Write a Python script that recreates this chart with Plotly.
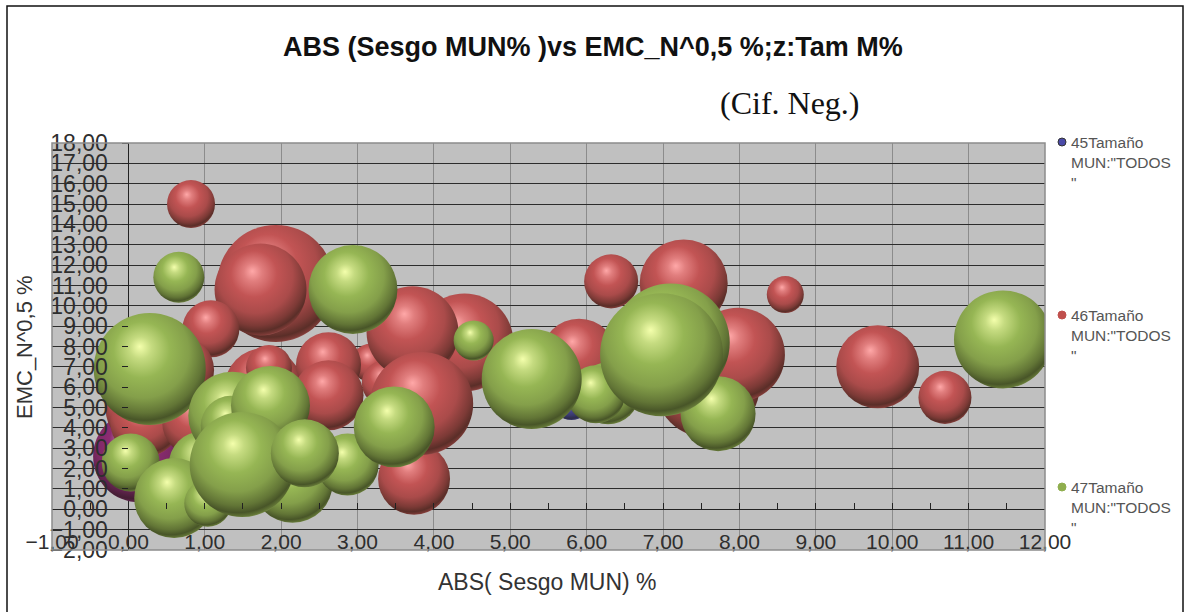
import plotly.graph_objects as go

# Series 45
x45 = [0.14, 5.80]
y45 = [2.60, 5.37]
z45 = [14.2, 2.7]
col45 = ["#8e2c74", "#5050a8"]
hi45 = ["#f0e6c8", "#b0b0f0"]

# Series 46
x46 = [0.82, 1.93, 1.73, 1.08, 0.69, 1.77, 1.84, 3.17, 3.35, 2.62, 2.62,
       0.16, 0.22, 0.90, 4.40, 3.72, 3.74, 3.84, 5.90, 7.58, 7.98, 7.27,
       6.32, 8.60, 9.81, 10.69]
y46 = [15.0, 11.1, 10.8, 8.87, 6.85, 6.0, 6.95, 7.2, 6.2, 7.1, 5.6,
       4.9, 4.3, 4.3, 8.2, 8.7, 1.5, 5.2, 7.5, 6.1, 7.6, 11.1,
       11.2, 10.55, 7.0, 5.5]
z46 = [3.87, 23.0, 14.2, 5.46, 7.32, 10.2, 3.55, 2.43, 3.4, 7.1, 8.23,
       8.23, 8.23, 8.23, 16.1, 14.2, 8.7, 17.8, 9.7, 18.5, 14.84, 13.0,
       4.9, 2.3, 11.57, 4.72]

# Series 47
x47 = [0.66, 2.94, 0.28, 0.03, 0.96, 0.60, 1.04, 1.36, 1.34, 2.15, 1.86,
       1.49, 2.87, 2.31, 3.48, 4.52, 6.28, 6.12, 5.28, 7.72, 7.10, 6.98,
       11.45]
y47 = [11.4, 10.8, 6.9, 2.3, 2.2, 0.55, 0.3, 4.6, 4.1, 1.3, 5.1,
       2.2, 2.2, 2.75, 4.05, 8.3, 5.7, 5.65, 6.4, 4.7, 8.2, 7.6,
       8.35]
z47 = [4.37, 13.3, 21.07, 5.65, 7.3, 10.75, 3.71, 13.0, 6.05, 10.75, 10.48,
       18.5, 6.46, 7.77, 11.0, 2.69, 6.46, 5.65, 16.8, 9.45, 23.4, 25.4,
       16.13]

legend_names = ['45Tamaño<br>MUN:"TODOS<br>"', '46Tamaño<br>MUN:"TODOS<br>"', '47Tamaño<br>MUN:"TODOS<br>"']
legend_colors = ["#4a4aa8", "#c0504d", "#8fae4e"]
legend_rows = [143, 316, 488]

RED, RED_HI = "#c25454", "#ffa8a8"
GREEN, GREEN_HI = "#96b654", "#f4ffac"
W, H = 1185, 612
L, R, T, B = 52, 1045, 143, 550
SIZEREF = 2 / 595.4


def px(v):
    return (v - L) / (R - L)


def py(v):
    return (B - v) / (B - T)


def bubbles(x, y, z, color, highlight, name):
    return go.Scatter(
        x=x, y=y, mode="markers", name=name, showlegend=False,
        marker=dict(size=z, sizemode="area", sizeref=SIZEREF, color=color, opacity=1,
                    line=dict(width=0),
                    gradient=dict(type="radial", color=highlight)),
    )


fig = go.Figure([
    bubbles(x45, y45, z45, col45, hi45, "45"),
    bubbles(x46, y46, z46, RED, RED_HI, "46"),
    bubbles(x47, y47, z47, GREEN, GREEN_HI, "47"),
])

axis_font = dict(family="Liberation Sans", size=21, color="#2e2e2e")
fig.update_layout(
    width=W, height=H,
    margin=dict(l=L, r=W - R, t=T, b=H - B, autoexpand=False),
    paper_bgcolor="white", plot_bgcolor="#c0c0c0",
    separators=",.",
    showlegend=False,
    xaxis=dict(
        range=[-1, 12], dtick=1, tick0=0, tickformat=".2f",
        anchor="free", position=(B - 509) / (B - T),
        showgrid=True, gridcolor="#8c8c8c", gridwidth=1.2,
        zeroline=True, zerolinecolor="#222222", zerolinewidth=1,
        showline=False, ticks="inside", ticklen=6, tickcolor="#222222",
        ticklabelstandoff=18, tickfont=axis_font,
        minor=dict(dtick=0.5, ticks="inside", ticklen=6, tickcolor="#222222", showgrid=False),
    ),
    yaxis=dict(
        range=[-2, 18], dtick=1, tick0=0, tickformat=".2f",
        anchor="free", position=(127.5 - L) / (R - L),
        showgrid=True, gridcolor="#2c2c2c", gridwidth=1.3,
        zeroline=True, zerolinecolor="#222222", zerolinewidth=1,
        showline=False, ticks="outside", ticklen=6, tickcolor="#222222",
        ticklabelstandoff=9, tickfont=dict(family="Liberation Sans", size=23, color="#2e2e2e"),
    ),
    shapes=[
        # plot border, then the outer frame, which stays open along the bottom
        dict(type="rect", xref="paper", yref="paper", x0=0, x1=1, y0=0, y1=1,
             line=dict(color="#8c8c8c", width=1.5)),
        dict(type="path", xref="paper", yref="paper",
             path=f"M {px(7)} {py(612)} L {px(7)} {py(6)} L {px(1183)} {py(6)} L {px(1183)} {py(612)}",
             line=dict(color="#111111", width=1.5)),
    ],
)


def label(text, x, y, size, color, family="Liberation Sans", **kw):
    fig.add_annotation(text=text, xref="paper", yref="paper", x=px(x), y=py(y),
                       xanchor="center", yanchor="middle", showarrow=False,
                       font=dict(family=family, size=size, color=color), **kw)


label("<b>ABS (Sesgo MUN% )vs EMC_N^0,5 %;z:Tam M%</b>", 593, 47, 27, "#111111")
label("(Cif. Neg.)", 790, 103, 32, "#111111", family="Liberation Serif")
label("ABS( Sesgo MUN) %", 547, 582, 23, "#333333")
label("EMC_N^0,5 %", 24, 347, 22, "#333333", textangle=-90)

for name, color, top in zip(legend_names, legend_colors, legend_rows):
    fig.add_annotation(text=name, xref="paper", yref="paper", x=px(1069), y=py(top - 11),
                       xanchor="left", yanchor="top", align="left", showarrow=False,
                       font=dict(family="Liberation Sans", size=15.5, color="#555555"))
    fig.add_shape(type="circle", xref="paper", yref="paper",
                  x0=px(1058), x1=px(1066), y0=py(top + 3), y1=py(top - 5),
                  fillcolor=color, line=dict(color="#333333" if top == legend_rows[0] else color, width=1))

# Turn the plain radial fills into lit spheres: off-centre highlight, dark
# lower right side and a faint reflected rim along the bottom edge.
SPHERE_JS = """
var gd = document.getElementById('{plot_id}');
function parse(c) {
  var m = String(c).match(/[0-9.]+/g).map(Number);
  return m.slice(0, 3);
}
function mix(a, b, t) {
  return 'rgb(' + a.map(function (v, i) { return Math.round(v + (b[i] - v) * t); }).join(',') + ')';
}
function shade() {
  gd.querySelectorAll('radialGradient').forEach(function (g) {
    if (g.getAttribute('data-lit')) return;
    var s = g.querySelectorAll('stop');
    var hi = parse(s[0].getAttribute('stop-color'));
    var base = parse(s[s.length - 1].getAttribute('stop-color'));
    var black = [20, 20, 10], white = [255, 255, 255];
    var ramp = [[0, mix(hi, hi, 0)], [0.15, mix(hi, base, 0.5)], [0.38, mix(base, base, 0)],
                [0.62, mix(base, black, 0.14)], [0.8, mix(base, black, 0.4)],
                [0.89, mix(base, black, 0.6)], [0.94, mix(base, black, 0.4)],
                [1, mix(base, white, 0.25)]];
    while (g.firstChild) g.removeChild(g.firstChild);
    ramp.forEach(function (r) {
      var e = document.createElementNS('http://www.w3.org/2000/svg', 'stop');
      e.setAttribute('offset', r[0]);
      e.setAttribute('stop-color', r[1]);
      g.appendChild(e);
    });
    g.setAttribute('cx', '0.46'); g.setAttribute('cy', '0.38'); g.setAttribute('r', '0.66');
    g.setAttribute('fx', '0.41'); g.setAttribute('fy', '0.3');
    g.setAttribute('data-lit', '1');
  });
}
shade();
gd.on('plotly_afterplot', shade);
"""

fig.write_html("out.html", post_script=SPHERE_JS, config=dict(displayModeBar=False))
